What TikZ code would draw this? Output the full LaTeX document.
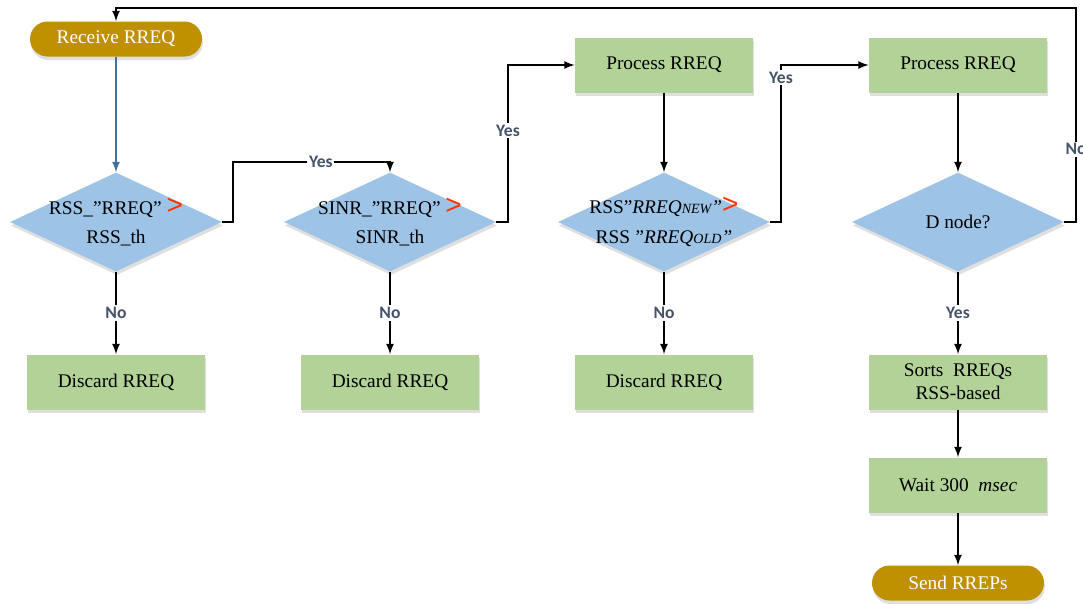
\documentclass[tikz,border=0pt]{standalone}
\usepackage{fontspec}
\setmainfont{Liberation Serif}
\newfontfamily\lblfont{Carlito}
\newfontfamily\gtfont{Liberation Sans}
\usetikzlibrary{arrows,shapes.geometric,shadows}
\definecolor{termgold}{RGB}{191,144,0}
\definecolor{boxgreen}{RGB}{178,210,152}
\definecolor{decblue}{RGB}{157,195,230}
\definecolor{lblcol}{RGB}{68,84,106}
\definecolor{gtred}{RGB}{255,51,0}
\definecolor{startblue}{RGB}{65,113,156}
\newcommand{\gtsign}{\textcolor{gtred}{\gtfont\fontsize{16}{16}\selectfont >}}
\newcommand{\smallcap}[1]{{\fontsize{8}{8}\selectfont #1}}

\begin{document}
\begin{tikzpicture}[node distance=2cm, font=\fontsize{11}{13}\selectfont]
\useasboundingbox (0,0) rectangle (21.66,-12.06);

\tikzstyle{term} = [rectangle, rounded corners=0.35cm, minimum height=0.7cm, minimum width=3.44cm, text centered, fill=termgold, text=white, drop shadow={shadow xshift=0.5pt, shadow yshift=-2pt, fill=black!25}]
\tikzstyle{proc} = [rectangle, minimum height=1.1cm, minimum width=3.56cm, text centered, align=center, fill=boxgreen, drop shadow={shadow xshift=0.5pt, shadow yshift=-2pt, fill=black!25}]
\tikzstyle{dec} = [diamond, aspect=2.14, minimum width=4.24cm, minimum height=1.98cm, inner sep=-0.2cm, align=center, fill=decblue, drop shadow={shadow xshift=0.5pt, shadow yshift=-2pt, fill=black!25}]
\tikzstyle{arr} = [line width=1pt, ->, >=latex]
\tikzstyle{lbl} = [fill=white, inner sep=1pt, text=lblcol, font=\lblfont\bfseries\fontsize{10}{10}\selectfont]

\node (recv) [term] at (2.32,-0.78) {Receive RREQ};
\node (d1) [dec, below of=recv, node distance=3.66cm] {RSS\_”RREQ” \gtsign\\[4pt] RSS\_th};
\node (disc1) [proc, below of=d1, node distance=3.2cm] {Discard RREQ};
\node (d2) [dec, right of=d1, node distance=5.48cm] {SINR\_”RREQ” \gtsign\\[4pt] SINR\_th};
\node (disc2) [proc, below of=d2, node distance=3.2cm] {Discard RREQ};
\node (d3) [dec, right of=d2, node distance=5.48cm] {RSS”\textit{RREQ\smallcap{NEW}”}\gtsign\\[4pt] RSS\,\textit{”RREQ\smallcap{OLD}”}};
\node (proc1) [proc, above of=d3, node distance=3.14cm] {Process RREQ};
\node (disc3) [proc, below of=d3, node distance=3.2cm] {Discard RREQ};
\node (d4) [dec, right of=d3, node distance=5.88cm] {D node?};
\node (proc2) [proc, above of=d4, node distance=3.14cm] {Process RREQ};
\node (sorts) [proc, below of=d4, node distance=3.2cm] {Sorts\ \ RREQs\\RSS-based};
\node (wait) [proc, below of=sorts, node distance=2.06cm] {Wait 300\ \ \textit{msec}};
\node (send) [term, below of=wait, node distance=1.96cm] {Send RREPs};

\coordinate (up1) at (4.66,-3.24);
\coordinate (up2) at (10.16,-1.30);
\coordinate (up3) at (15.62,-1.30);
\coordinate (back) at (21.52,-0.16);

\draw [arr, color=startblue] (recv)--(d1);
\draw [arr] (d1.east) -| (up1) -| node[lbl, pos=0.28] {Yes} (d2.north);
\draw [arr] (d2.east) -| node[lbl, pos=0.79] {Yes} (up2) -- (proc1.west);
\draw [arr] (d3.east) -| node[lbl, pos=0.96] {Yes} (up3) -- (proc2.west);
\draw [arr] (d4.east) -| node[lbl, pos=0.67] {No} (back) -| (recv.north);
\draw [arr] (d1.south) -- node[lbl] {No} (disc1.north);
\draw [arr] (d2.south) -- node[lbl] {No} (disc2.north);
\draw [arr] (d3.south) -- node[lbl] {No} (disc3.north);
\draw [arr] (d4.south) -- node[lbl] {Yes} (sorts.north);
\draw [arr] (proc1)--(d3);
\draw [arr] (proc2)--(d4);
\draw [arr] (sorts)--(wait);
\draw [arr] (wait)--(send);
\end{tikzpicture}
\end{document}
